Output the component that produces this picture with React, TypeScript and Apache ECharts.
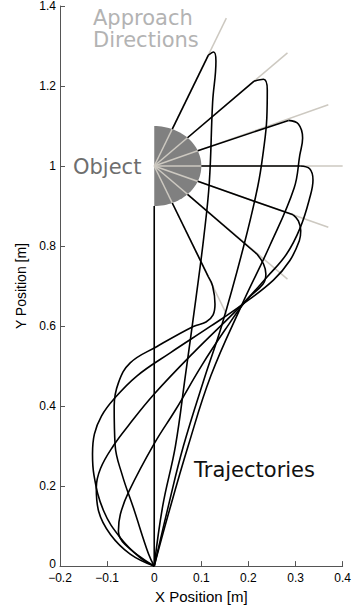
import React, { useEffect, useRef } from 'react';
import * as echarts from 'echarts';

// ---- axis ranges / ticks ----
const xRange = [-0.2, 0.4];
const xStep = 0.1;
const yRange = [0, 1.4];
const yStep = 0.2;

// ---- object (half disc) and approach directions ----
const objectCenter = [0, 1.0];
const objectRadius = 0.1;
const approachAngles = [67.5, 45, 22.5, 0, -22.5, -45, -67.5]; // degrees
const directionLength = 0.4;

// ---- trajectories (x, y) in metres ----
const traj67 = [
  [0, 0], [0.018, 0.15], [0.045, 0.3], [0.066, 0.475], [0.089, 0.673], [0.105, 0.82],
  [0.117, 0.96], [0.124, 1.16], [0.131, 1.262], [0.126, 1.285], [0.115, 1.277],
  [0.0383, 1.0924],
];
const traj45 = [
  [0, 0], [0.03, 0.15], [0.062, 0.3], [0.108, 0.475], [0.143, 0.6], [0.19, 0.8],
  [0.22, 0.95], [0.232, 1.04], [0.239, 1.12], [0.24, 1.19], [0.232, 1.217], [0.212, 1.212],
  [0.0707, 1.0707],
];
const traj22 = [
  [0, 0], [0.03, 0.13], [0.072, 0.3], [0.12, 0.475], [0.186, 0.653], [0.245, 0.8],
  [0.297, 0.945], [0.309, 1.027], [0.315, 1.07], [0.306, 1.105], [0.285, 1.114],
  [0.0924, 1.0383],
];
const traj0 = [
  [0, 0], [-0.051, 0.03], [-0.093, 0.079], [-0.118, 0.137], [-0.123, 0.195], [-0.114, 0.244],
  [-0.086, 0.302], [-0.055, 0.351], [0, 0.43], [0.083, 0.533], [0.186, 0.653],
  [0.239, 0.722], [0.281, 0.78], [0.31, 0.846], [0.33, 0.92], [0.337, 0.965], [0.33, 0.993],
  [0.31, 1.0],
  [0.1, 1.0],
];
const trajM22 = [
  [0, 0], [-0.03, 0.021], [-0.072, 0.071], [-0.107, 0.137], [-0.128, 0.228], [-0.131, 0.28],
  [-0.127, 0.33], [-0.112, 0.375], [-0.086, 0.417], [-0.037, 0.475], [0.034, 0.533],
  [0.119, 0.599], [0.186, 0.653], [0.253, 0.715], [0.288, 0.764], [0.308, 0.813],
  [0.311, 0.838], [0.306, 0.863], [0.295, 0.878],
  [0.0924, 0.9617],
];
const trajM45 = [
  [0, 0], [-0.062, 0.054], [-0.076, 0.087], [-0.072, 0.129], [-0.054, 0.186], [0, 0.306],
  [0.046, 0.392], [0.1, 0.5], [0.15, 0.59], [0.196, 0.665], [0.231, 0.705], [0.237, 0.73],
  [0.232, 0.755], [0.218, 0.78],
  [0.0707, 0.9293],
];
const trajM67 = [
  [0, 0], [-0.012, 0.03], [-0.044, 0.145], [-0.068, 0.228], [-0.083, 0.302], [-0.085, 0.4],
  [-0.076, 0.458], [-0.051, 0.508], [0.006, 0.549], [0.083, 0.599], [0.11, 0.61],
  [0.125, 0.628], [0.129, 0.655], [0.124, 0.7], [0.115, 0.723],
  [0.0383, 0.9076],
];
const trajM90 = [
  [0, 0], [0, 0.9],
];
const trajectories = [traj67, traj45, traj22, traj0, trajM22, trajM45, trajM67, trajM90];

const fmt = (v: number) => {
  const r = Math.round(v * 10) / 10;
  return String(r).replace('-', '\u2212');
};

export default function App() {
  const ref = useRef<HTMLDivElement>(null);
  useEffect(() => {
    if (!ref.current) return;
    const chart = echarts.init(ref.current, null, { renderer: 'svg' });

    const series: any[] = [];
    // object half disc
    series.push({
      type: 'custom',
      coordinateSystem: 'cartesian2d',
      data: [objectCenter],
      z: 1,
      silent: true,
      renderItem: (params: any, api: any) => {
        const pts: number[][] = [];
        for (let a = -90; a <= 90; a += 3) {
          const t = (a * Math.PI) / 180;
          pts.push(api.coord([objectCenter[0] + objectRadius * Math.cos(t), objectCenter[1] + objectRadius * Math.sin(t)]));
        }
        return { type: 'polygon', shape: { points: pts }, style: { fill: '#808080', stroke: 'none' } };
      },
    });
    // approach directions
    approachAngles.forEach((deg) => {
      const t = (deg * Math.PI) / 180;
      series.push({
        type: 'line',
        data: [objectCenter, [objectCenter[0] + directionLength * Math.cos(t), objectCenter[1] + directionLength * Math.sin(t)]],
        showSymbol: false,
        symbol: 'none',
        silent: true,
        z: 2,
        lineStyle: { color: '#cdc9c1', width: 1.5 },
      });
    });
    // trajectories: curved part + straight final approach
    trajectories.forEach((tr) => {
      if (tr.length > 2) {
        series.push({
          type: 'line',
          data: tr.slice(0, -1),
          smooth: 0.4,
          showSymbol: false,
          symbol: 'none',
          silent: true,
          z: 3,
          lineStyle: { color: '#000', width: 1.6 },
        });
      }
      series.push({
        type: 'line',
        data: tr.slice(-2),
        showSymbol: false,
        symbol: 'none',
        silent: true,
        z: 3,
        lineStyle: { color: '#000', width: 1.6 },
      });
    });

    chart.setOption({
      animation: false,
      grid: { left: 60, right: 11, top: 6, bottom: 37, containLabel: false },
      xAxis: {
        type: 'value', min: xRange[0], max: xRange[1], interval: xStep,
        axisLine: { show: true, onZero: false, lineStyle: { color: '#555', width: 1 } },
        axisTick: { show: true, inside: true, length: 5, lineStyle: { color: '#555' } },
        axisLabel: { color: '#000', fontFamily: 'Liberation Sans', fontSize: 12, lineHeight: 12, margin: 6, formatter: fmt },
        splitLine: { show: false },
        name: 'X Position [m]', nameLocation: 'middle', nameGap: 20,
        nameTextStyle: { color: '#000', fontFamily: 'Liberation Sans', fontSize: 15 },
      },
      yAxis: {
        type: 'value', min: yRange[0], max: yRange[1], interval: yStep,
        axisLine: { show: true, onZero: false, lineStyle: { color: '#555', width: 1 } },
        axisTick: { show: true, inside: true, length: 5, lineStyle: { color: '#555' } },
        axisLabel: { color: '#000', fontFamily: 'Liberation Sans', fontSize: 12, margin: 4, formatter: fmt, showMinLabel: false },
        splitLine: { show: false },
        name: 'Y Position [m]', nameLocation: 'middle', nameGap: 28,
        nameTextStyle: { color: '#000', fontFamily: 'Liberation Sans', fontSize: 14 },
      },
      graphic: [
        { type: 'text', x: 56, y: 564, z: 10, style: { text: fmt(yRange[0]), fontFamily: 'Liberation Sans', fontSize: 12, fill: '#000', verticalAlign: 'middle', align: 'right' } },
        { type: 'text', x: 93, y: 18, z: 10, style: { text: 'Approach', fontFamily: 'DejaVu Sans', fontSize: 21, fill: '#b3b3b3', verticalAlign: 'middle', align: 'left' } },
        { type: 'text', x: 93, y: 40, z: 10, style: { text: 'Directions', fontFamily: 'DejaVu Sans', fontSize: 21, fill: '#b3b3b3', verticalAlign: 'middle', align: 'left' } },
        { type: 'text', x: 73, y: 167, z: 10, style: { text: 'Object', fontFamily: 'DejaVu Sans', fontSize: 21, fill: '#6e6e6e', verticalAlign: 'middle', align: 'left' } },
        { type: 'text', x: 194, y: 469.5, z: 10, style: { text: 'Trajectories', fontFamily: 'DejaVu Sans', fontSize: 21, fill: '#111', verticalAlign: 'middle', align: 'left' } },
      ],
      series,
    });
    return () => chart.dispose();
  }, []);
  return <div ref={ref} style={{ position: 'fixed', left: 0, top: 0, width: 354, height: 609, background: '#fff' }} />;
}
